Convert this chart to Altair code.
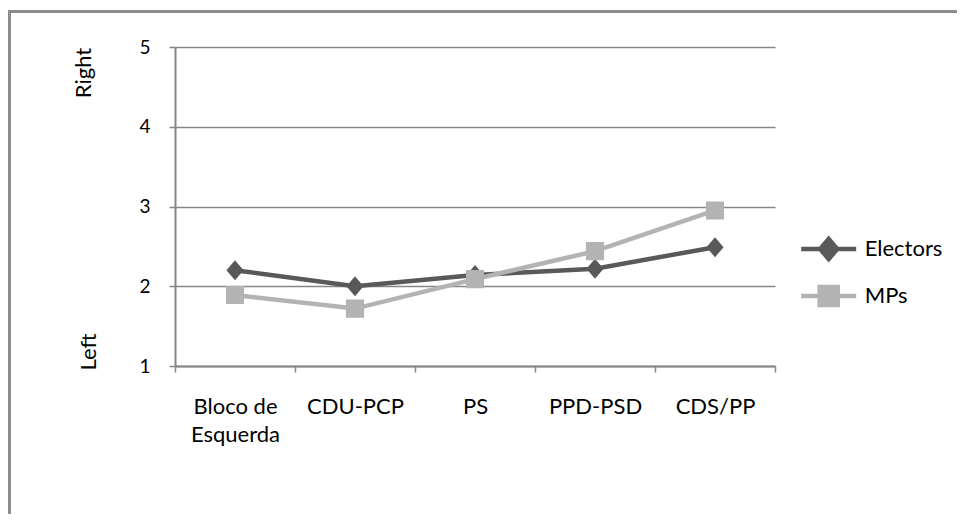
import altair as alt
import pandas as pd

categories = ["Bloco de Esquerda", "CDU-PCP", "PS", "PPD-PSD", "CDS/PP"]
electors = [2.20, 2.00, 2.14, 2.22, 2.49]
mps = [1.89, 1.72, 2.09, 2.44, 2.95]
series = ["Electors", "MPs"]
colors = ["#595959", "#b3b3b3"]
y_ticks = [1, 2, 3, 4, 5]

rows = []
for name, vals in zip(series, [electors, mps]):
    for c, v in zip(categories, vals):
        rows.append({"party": c, "value": v, "series": name})
df = pd.DataFrame(rows)

FONT = "Lato"
GRAY = "#868686"

# custom symbols: horizontal line (legend only, stroked) + marker (filled)
diamond = "M-1.122,0L1.122,0M0,-0.41L0.35,0L0,0.41L-0.35,0Z"
square = "M-1.122,0L1.122,0M-0.37,-0.37L0.37,-0.37L0.37,0.37L-0.37,0.37Z"

xenc = alt.X(
    "party:N",
    sort=categories,
    scale=alt.Scale(type="band", paddingInner=0, paddingOuter=0),
    axis=alt.Axis(
        title=None,
        labelExpr="datum.label == 'Bloco de Esquerda' ? ['Bloco de', 'Esquerda'] : datum.label",
        labelFont=FONT, labelFontSize=22, labelColor="#000000",
        labelPadding=24, labelLineHeight=28, labelOverlap=False,
        labelAngle=0,
        tickBand="extent", tickSize=6, tickColor=GRAY, tickWidth=1.5,
        domainColor=GRAY, domainWidth=2, grid=False,
    ),
)
yenc = alt.Y(
    "value:Q",
    scale=alt.Scale(domain=[1, 5], nice=False, zero=False),
    axis=alt.Axis(
        title=None, values=y_ticks, format="d",
        labelFont=FONT, labelFontSize=19, labelColor="#000000",
        labelPadding=19, tickSize=6, tickColor=GRAY, tickWidth=1.5,
        domainColor=GRAY, domainWidth=2,
        grid=True, gridColor=GRAY, gridWidth=1.5,
    ),
)

leg = alt.Legend(
    title=None, orient="none", legendX=626.7, legendY=175,
    labelFont=FONT, labelFontSize=22, labelColor="#000000",
    symbolSize=2401, rowPadding=0, labelOffset=9, padding=0,
    symbolStrokeWidth=4.5, symbolOpacity=1,
)
cscale = alt.Scale(domain=series, range=colors)

line_layers = []
for name, col in zip(series, colors):
    line_layers.append(
        alt.Chart(df).transform_filter(alt.datum.series == name)
        .mark_line(strokeWidth=4.5, color=col)
        .encode(x=xenc, y=yenc)
    )
points = alt.Chart(df).mark_point(filled=True, opacity=1, size=2401).encode(
    x=xenc, y=yenc,
    color=alt.Color("series:N", scale=cscale, legend=leg),
    stroke=alt.Stroke("series:N", scale=cscale, legend=leg),
    shape=alt.Shape("series:N", scale=alt.Scale(domain=series, range=[diamond, square]), legend=leg),
    strokeWidth=alt.value(0),
)

one = pd.DataFrame({"a": [0]})
border_top = alt.Chart(one).mark_rule(color="#8c8c8c", strokeWidth=3).encode(
    x=alt.value(-167), x2=alt.value(782), y=alt.value(-35.5)
)
border_left = alt.Chart(one).mark_rule(color="#8c8c8c", strokeWidth=3).encode(
    x=alt.value(-165.5), y=alt.value(-37), y2=alt.value(467)
)
right_lbl = alt.Chart(pd.DataFrame({"t": ["Right"]})).mark_text(
    font=FONT, fontSize=22, angle=270, align="center", baseline="middle", color="#000000"
).encode(x=alt.value(-91), y=alt.value(26), text="t:N")
left_lbl = alt.Chart(pd.DataFrame({"t": ["Left"]})).mark_text(
    font=FONT, fontSize=22, angle=270, align="center", baseline="middle", color="#000000"
).encode(x=alt.value(-86), y=alt.value(305), text="t:N")

chart = alt.layer(*line_layers, points, border_top, border_left, right_lbl, left_lbl).properties(
    width=600, height=319,
    autosize=alt.AutoSizeParams(type="none"),
    padding={"left": 167, "top": 39, "right": 182, "bottom": 148},
    background="white",
).configure_view(stroke=None)

chart.save("out.html", embed_options={"renderer": "svg", "actions": False})
